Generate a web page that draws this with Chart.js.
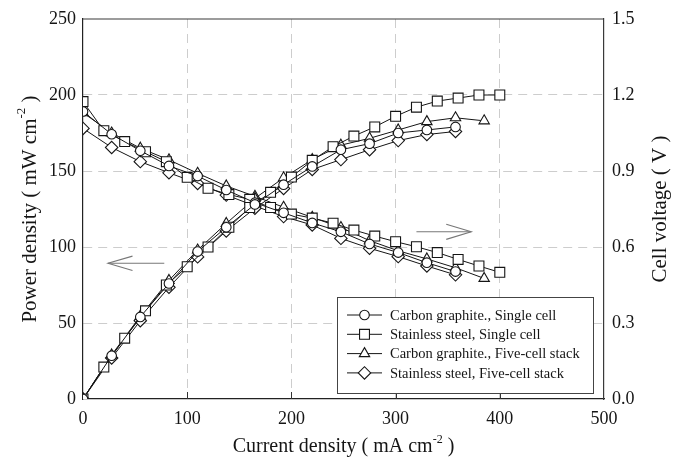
<!DOCTYPE html>
<html><head><meta charset="utf-8">
<script src="https://cdn.jsdelivr.net/npm/chart.js@4.4.0/dist/chart.umd.min.js"></script>
<style>html,body{margin:0;padding:0;background:#fff;}#wrap{width:683px;height:463px;}</style>
</head><body><div id="wrap"><canvas id="c" width="683" height="463"></canvas></div>
<script>
// ---------- data ----------
const seriesNames = [
  'Carbon graphite., Single cell',
  'Stainless steel, Single cell',
  'Carbon graphite., Five-cell stack',
  'Stainless steel, Five-cell stack'
];
const seriesMarkers = ['circle', 'rect', 'triangle', 'rectRot'];

// Carbon graphite, single cell
const currentCarbonSingle = [0, 27.5, 55, 82.5, 110, 137.5, 165, 192.5, 220, 247.5, 275, 302.5, 330, 357.5];
const powerCarbonSingle   = [0, 28.5, 54, 76, 97, 113, 128, 141, 153, 164, 168, 175, 177, 179];
const voltageCarbonSingle = [1.135, 1.045, 0.98, 0.92, 0.88, 0.825, 0.775, 0.735, 0.695, 0.66, 0.612, 0.578, 0.538, 0.503];

// Stainless steel, single cell
const currentSteelSingle = [0, 20, 40, 60, 80, 100, 120, 140, 160, 180, 200, 220, 240, 260, 280, 300, 320, 340, 360, 380, 400];
const powerSteelSingle   = [0, 21, 40, 58, 75, 87, 100, 113, 126, 136, 146, 157, 166, 173, 179, 186, 192, 196, 198, 200, 200];
const voltageSteelSingle = [1.174, 1.059, 1.016, 0.976, 0.937, 0.875, 0.832, 0.807, 0.788, 0.756, 0.73, 0.714, 0.694, 0.667, 0.643, 0.621, 0.601, 0.578, 0.551, 0.525, 0.50];

// Carbon graphite, five-cell stack
const currentCarbonStack = [0, 27.5, 55, 82.5, 110, 137.5, 165, 192.5, 220, 247.5, 275, 302.5, 330, 357.5, 385];
const powerCarbonStack   = [0, 29, 54.5, 78, 98, 115.5, 132, 145.5, 157.5, 167, 171.5, 177, 182.5, 185, 183];
const voltageCarbonStack = [1.13, 1.05, 0.99, 0.944, 0.891, 0.841, 0.80, 0.757, 0.717, 0.677, 0.625, 0.585, 0.553, 0.518, 0.476];

// Stainless steel, five-cell stack
const currentSteelStack = [0, 27.5, 55, 82.5, 110, 137.5, 165, 192.5, 220, 247.5, 275, 302.5, 330, 357.5];
const powerSteelStack   = [0, 27, 51.5, 73.5, 93.5, 110.5, 125.5, 138.5, 151, 157.5, 164, 170, 174, 176];
const voltageSteelStack = [1.068, 0.993, 0.937, 0.893, 0.851, 0.805, 0.762, 0.72, 0.687, 0.634, 0.595, 0.562, 0.525, 0.49];

// axes
const xTicks = [0, 100, 200, 300, 400, 500];
const powerTicks = [0, 50, 100, 150, 200, 250];
const voltageTicks = [0.0, 0.3, 0.6, 0.9, 1.2, 1.5];
const xTitle = ['Current density ( mA cm', '-2', ' )'];
const yTitle = ['Power density ( mW cm', '-2', ' )'];
const y1Title = ['Cell voltage ( V )'];

// annotation arrows (data units): [x1, x2, level, axis]
const arrowLeft = {from: 78, to: 24, level: 89.3, axis: 'y', headX: 47.5, headDy: 4.7};
const arrowRight = {from: 320, to: 372.6, level: 0.66, axis: 'y1', headX: 348.6, headDy: 0.03};

// ---------- chart ----------
const FONT = '"Liberation Serif", "Times New Roman", serif';
const INK = '#151515';
const pairs = (xs, ys) => xs.map((x, i) => ({x: x, y: ys[i]}));

const groups = [
  [currentCarbonSingle, powerCarbonSingle, voltageCarbonSingle],
  [currentSteelSingle, powerSteelSingle, voltageSteelSingle],
  [currentCarbonStack, powerCarbonStack, voltageCarbonStack],
  [currentSteelStack, powerSteelStack, voltageSteelStack]
];
const markerRadius = {circle: 4.8, rect: 7, triangle: 6, rectRot: 6.2};

const datasets = [];
groups.forEach((g, i) => {
  const common = {
    borderColor: INK, borderWidth: 1, pointStyle: seriesMarkers[i],
    pointRadius: markerRadius[seriesMarkers[i]], pointBorderWidth: 1.1,
    pointBackgroundColor: '#fff', pointBorderColor: INK, tension: 0, fill: false
  };
  datasets.push(Object.assign({label: seriesNames[i], data: pairs(g[0], g[1]), yAxisID: 'y'}, common));
  datasets.push(Object.assign({label: seriesNames[i] + ' V', data: pairs(g[0], g[2]), yAxisID: 'y1'}, common));
});

function drawMarker(ctx, style, x, y, r) {
  ctx.beginPath();
  if (style === 'circle') {
    ctx.arc(x, y, r, 0, Math.PI * 2);
  } else if (style === 'rect') {
    const s = Math.SQRT1_2 * r;
    ctx.rect(x - s, y - s, 2 * s, 2 * s);
  } else if (style === 'triangle') {
    let rad = 0;
    ctx.moveTo(x + Math.sin(rad) * r, y - Math.cos(rad) * r);
    rad += 2 * Math.PI / 3;
    ctx.lineTo(x + Math.sin(rad) * r, y - Math.cos(rad) * r);
    rad += 2 * Math.PI / 3;
    ctx.lineTo(x + Math.sin(rad) * r, y - Math.cos(rad) * r);
    ctx.closePath();
  } else {
    ctx.moveTo(x - r, y); ctx.lineTo(x, y - r); ctx.lineTo(x + r, y); ctx.lineTo(x, y + r); ctx.closePath();
  }
  ctx.fillStyle = '#fff'; ctx.fill();
  ctx.strokeStyle = INK; ctx.lineWidth = 1.1; ctx.stroke();
}

function drawSupText(ctx, parts, cx, cy, rot, size) {
  ctx.save();
  ctx.translate(cx, cy);
  ctx.rotate(rot);
  const supSize = Math.round(size * 0.6);
  let total = 0;
  const widths = parts.map((p, i) => {
    ctx.font = (i % 2 === 1 ? supSize : size) + 'px ' + FONT;
    return ctx.measureText(p).width;
  });
  widths.forEach(w => total += w);
  let x = -total / 2;
  ctx.fillStyle = INK;
  ctx.textBaseline = 'middle';
  ctx.textAlign = 'left';
  parts.forEach((p, i) => {
    const sup = i % 2 === 1;
    ctx.font = (sup ? supSize : size) + 'px ' + FONT;
    ctx.fillText(p, x, sup ? -size * 0.38 : 0);
    x += widths[i];
  });
  ctx.restore();
}

const decorPlugin = {
  id: 'decor',
  afterDraw(chart) {
    const {ctx, chartArea: a, scales} = chart;
    ctx.save();
    // top frame line
    ctx.strokeStyle = '#3a3a3a'; ctx.lineWidth = 1.2;
    ctx.beginPath(); ctx.moveTo(a.left, a.top); ctx.lineTo(a.right, a.top); ctx.stroke();
    // inner ticks on bottom axis
    ctx.strokeStyle = '#333'; ctx.lineWidth = 1;
    xTicks.slice(1, -1).forEach(v => {
      const px = Math.round(scales.x.getPixelForValue(v)) + 0.5;
      ctx.beginPath(); ctx.moveTo(px, a.bottom); ctx.lineTo(px, a.bottom - 7); ctx.stroke();
    });
    // arrows
    ctx.strokeStyle = '#777'; ctx.lineWidth = 1.1;
    [arrowLeft, arrowRight].forEach(ar => {
      const ys = scales[ar.axis];
      const x1 = scales.x.getPixelForValue(ar.from), x2 = scales.x.getPixelForValue(ar.to);
      const yy = ys.getPixelForValue(ar.level);
      const hx = scales.x.getPixelForValue(ar.headX);
      const hy1 = ys.getPixelForValue(ar.level + ar.headDy), hy2 = ys.getPixelForValue(ar.level - ar.headDy);
      ctx.beginPath(); ctx.moveTo(x1, yy); ctx.lineTo(x2, yy); ctx.stroke();
      ctx.beginPath(); ctx.moveTo(hx, hy1); ctx.lineTo(x2, yy); ctx.lineTo(hx, hy2); ctx.stroke();
    });
    // legend
    const bx = a.right - 267, by = a.bottom - 102, bw = 256, bh = 96;
    ctx.fillStyle = '#fff'; ctx.fillRect(bx, by, bw, bh);
    ctx.strokeStyle = '#444'; ctx.lineWidth = 1;
    ctx.strokeRect(bx + 0.5, by + 0.5, bw, bh);
    seriesNames.forEach((name, i) => {
      const yy = by + 18 + i * 19.3;
      ctx.strokeStyle = INK; ctx.lineWidth = 1;
      ctx.beginPath(); ctx.moveTo(bx + 10, yy); ctx.lineTo(bx + 45, yy); ctx.stroke();
      drawMarker(ctx, seriesMarkers[i], bx + 27.5, yy, markerRadius[seriesMarkers[i]]);
      ctx.fillStyle = INK; ctx.font = '14.5px ' + FONT;
      ctx.textBaseline = 'middle'; ctx.textAlign = 'left';
      ctx.fillText(name, bx + 53, yy + 1);
    });
    // axis titles
    drawSupText(ctx, xTitle, (a.left + a.right) / 2, 447, 0, 20);
    drawSupText(ctx, yTitle, 30, (a.top + a.bottom) / 2, -Math.PI / 2, 21);
    drawSupText(ctx, y1Title, 660, (a.top + a.bottom) / 2, -Math.PI / 2, 21);
    ctx.restore();
  }
};

const gridColor = (ends) => (c) => (c.tick && ends.includes(c.tick.value)) ? 'rgba(0,0,0,0)' : '#cdcdcd';

new Chart(document.getElementById('c'), {
  type: 'line',
  data: {datasets: datasets},
  plugins: [decorPlugin],
  options: {
    responsive: false, devicePixelRatio: 1, animation: false,
    layout: {padding: {top: 19, left: 0, right: 0, bottom: 0}},
    plugins: {legend: {display: false}, tooltip: {enabled: false}, title: {display: false}},
    scales: {
      x: {
        type: 'linear', min: xTicks[0], max: xTicks[xTicks.length - 1],
        afterFit: s => { s.height = 64; },
        afterBuildTicks: s => { s.ticks = xTicks.map(v => ({value: v})); },
        ticks: {padding: 9, color: INK, font: {family: FONT, size: 18}, maxRotation: 0},
        grid: {color: gridColor([0, 500]), drawTicks: false, lineWidth: 1},
        border: {color: '#222', width: 1.2, dash: [9, 6]}
      },
      y: {
        position: 'left', min: powerTicks[0], max: powerTicks[powerTicks.length - 1],
        afterFit: s => { s.width = 83; },
        afterBuildTicks: s => { s.ticks = powerTicks.map(v => ({value: v})); },
        ticks: {padding: 7, color: INK, font: {family: FONT, size: 18}},
        grid: {color: gridColor([0, 250]), drawTicks: false, lineWidth: 1},
        border: {color: '#222', width: 1.2, dash: [9, 6]}
      },
      y1: {
        position: 'right', min: voltageTicks[0], max: voltageTicks[voltageTicks.length - 1],
        afterFit: s => { s.width = 79; },
        afterBuildTicks: s => { s.ticks = voltageTicks.map(v => ({value: v})); },
        ticks: {padding: 8, color: INK, font: {family: FONT, size: 18}, callback: v => Number(v).toFixed(1)},
        grid: {display: false, drawTicks: false},
        border: {color: '#3a3a3a', width: 1.2}
      }
    }
  }
});
</script>
</body></html>
